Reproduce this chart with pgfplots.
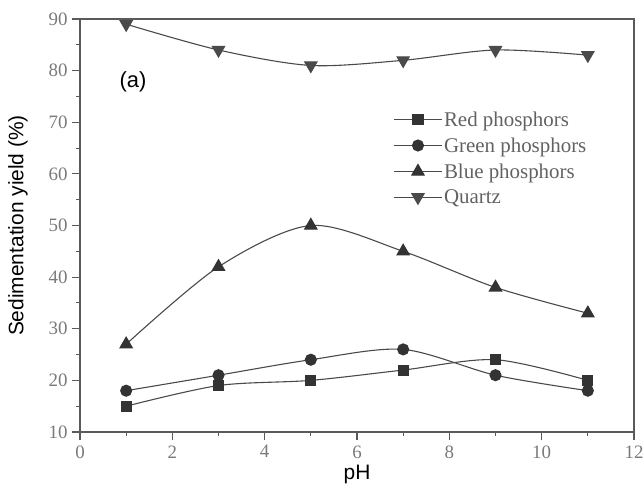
\documentclass[border=0pt]{standalone}
\usepackage{fontspec}
\setmainfont{Liberation Serif}
\newfontfamily\arial{Liberation Sans}
\usepackage{pgfplots}
\pgfplotsset{compat=1.18}
\definecolor{axgray}{HTML}{5A5A5A}
\definecolor{tickgray}{HTML}{7A7A7A}
\definecolor{linegray}{HTML}{4A4A4A}
\definecolor{markgray}{HTML}{333333}
\begin{document}
\begin{tikzpicture}
\begin{axis}[
  name=ax,
  at={(0,0)}, anchor=south west,
  scale only axis,
  width=554bp, height=413bp,
  xmin=0, xmax=12, ymin=10, ymax=90,
  xtick={0,2,4,6,8,10,12},
  ytick={10,20,30,40,50,60,70,80,90},
  minor x tick num=1, minor y tick num=1,
  tick align=outside,
  major tick length=8bp, minor tick length=4bp,
  xtick pos=bottom, ytick pos=left,
  axis line style={axgray, line width=1.3bp},
  every tick/.style={axgray, line width=1.1bp},
  /pgf/number format/assume math mode=true,
  tick label style={font=\fontsize{19}{19}\selectfont, text=tickgray},
  xticklabel style={yshift=-2bp},
  yticklabel style={xshift=-1bp},
  xlabel={\arial pH},
  ylabel={\arial Sedimentation yield (\%)},
  label style={font=\fontsize{21}{21}\selectfont},
  xlabel style={yshift=0bp},
  ylabel style={yshift=14bp},
  legend cell align=left,
  legend style={draw=none, fill=none, at={(0.56,0.785)}, anchor=north west,
    font=\fontsize{21}{21}\selectfont, text=tickgray!80!black,
    nodes={inner sep=1.5bp}, row sep=7bp},
  legend image code/.code={\draw[mark repeat=2,mark phase=2,#1] plot coordinates {(0bp,0bp) (24bp,0bp) (48bp,0bp)};},
  every axis plot/.append style={linegray, line width=1.1bp, smooth, tension=0.5,
    mark options={fill=markgray, draw=markgray, solid}},
]
\addplot[mark=square*, mark size=5bp] coordinates {(1,15) (3,19) (5,20) (7,22) (9,24) (11,20)};
\addlegendentry{Red phosphors}
\addplot[mark=*, mark size=5.5bp] coordinates {(1,18) (3,21) (5,24) (7,26) (9,21) (11,18)};
\addlegendentry{Green phosphors}
\addplot[mark=triangle*, mark size=7bp] coordinates {(1,27) (3,42) (5,50) (7,45) (9,38) (11,33)};
\addlegendentry{Blue phosphors}
\addplot[mark=triangle*, mark size=7bp, mark options={rotate=180}] coordinates {(1,89) (3,84) (5,81) (7,82) (9,84) (11,83)};
\addlegendentry{Quartz}
\node[font=\arial\fontsize{22}{22}\selectfont, anchor=center] at (axis cs:1.15,77.8) {(a)};
\end{axis}
\pgfresetboundingbox
\path[use as bounding box] (-80bp,-56bp) rectangle (564bp,432bp);
\end{tikzpicture}
\end{document}
